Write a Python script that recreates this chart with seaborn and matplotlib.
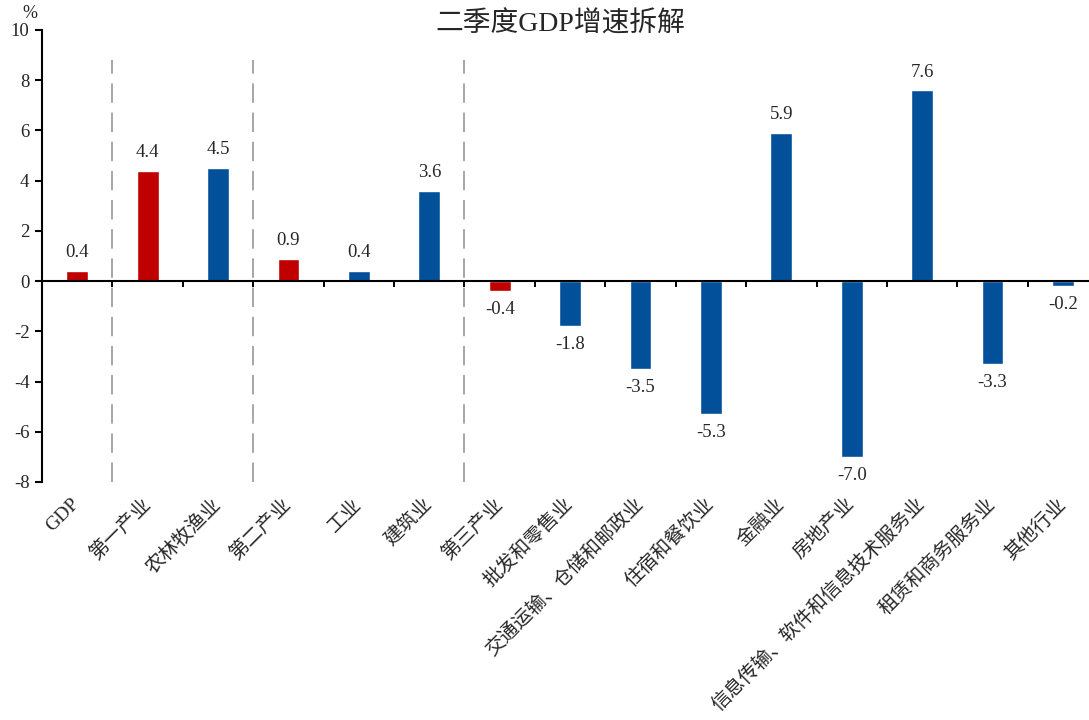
import matplotlib
matplotlib.use("Agg")
import matplotlib.pyplot as plt
import seaborn as sns
import pandas as pd

categories = ["GDP", "第一产业", "农林牧渔业", "第二产业", "工业", "建筑业", "第三产业",
              "批发和零售业", "交通运输、仓储和邮政业", "住宿和餐饮业", "金融业", "房地产业",
              "信息传输、软件和信息技术服务业", "租赁和商务服务业", "其他行业"]
growth = [0.4, 4.4, 4.5, 0.9, 0.4, 3.6, -0.4, -1.8, -3.5, -5.3, 5.9, -7.0, 7.6, -3.3, -0.2]
level = ["总量", "产业", "行业", "产业", "行业", "行业", "产业",
         "行业", "行业", "行业", "行业", "行业", "行业", "行业", "行业"]
group_dividers = [0.5, 2.5, 5.5]
y_ticks = [-8, -6, -4, -2, 0, 2, 4, 6, 8, 10]

palette = {"总量": "#C00000", "产业": "#C00000", "行业": "#02509A"}

sns.set_theme(style="white")
plt.rcParams["font.family"] = ["Liberation Serif", "Noto Sans CJK SC"]
plt.rcParams["axes.unicode_minus"] = False

df = pd.DataFrame({"category": categories, "growth": growth, "level": level})

fig = plt.figure(figsize=(10.89, 7.2), dpi=100)
ax = fig.add_axes([42 / 1089, 1 - 482 / 720, 1 - 42 / 1089, (482 - 30) / 720])

sns.barplot(data=df, x="category", y="growth", hue="level", palette=palette,
            dodge=False, width=0.31, legend=False, ax=ax, saturation=1)

ax.set_xlim(-0.5, 14.37)
ax.set_ylim(-8, 10)
ax.set_yticks(y_ticks)
ax.set_yticklabels([str(v) for v in y_ticks], fontsize=13.5)
ax.set_xlabel("")
ax.set_ylabel("")

# vertical separators between groups
ax.vlines(group_dividers, -8, 8.8, colors="#A6A6A6", linestyles=(0, (10, 5)), linewidth=1.4)

# zero line with small tick marks at category boundaries
ax.axhline(0, color="black", linewidth=1.5, zorder=3)
boundaries = [i + 0.5 for i in range(14)]
ax.vlines(boundaries, -0.22, 0, colors="black", linewidth=1.4, zorder=3)

# category labels below the plot
ax.set_xticks(range(len(categories)))
ax.set_xticklabels(categories)
ax.tick_params(axis="x", length=0, pad=14)
for i, lab in enumerate(ax.get_xticklabels()):
    lab.set_rotation(45)
    lab.set_rotation_mode("anchor")
    lab.set_ha("right")
    lab.set_va("center")
    lab.set_fontsize(14)
    lab.set_family(["Liberation Serif", "Noto Sans CJK SC"])

for side in ["top", "right", "bottom"]:
    ax.spines[side].set_visible(False)
ax.spines["left"].set_color("black")
ax.spines["left"].set_linewidth(1.5)
ax.tick_params(axis="y", direction="out", length=5, width=1.5, color="black", left=True, pad=4)

# value labels
for i, v in enumerate(growth):
    ax.annotate(f"{v:.1f}", (i, v), xytext=(0, 7 if v >= 0 else -7), textcoords="offset points",
                ha="center", va="bottom" if v >= 0 else "top", fontsize=13.5,
                family="Liberation Serif")

fig.text(30 / 1089, 1 - 13 / 720, "%", ha="center", va="center", fontsize=13,
         family="Liberation Serif")
fig.text(560 / 1089, 1 - 24 / 720, "二季度GDP增速拆解", ha="center", va="center", fontsize=20,
         family=["Liberation Serif", "Noto Sans CJK SC"])

fig.savefig("out.png", dpi=100)
